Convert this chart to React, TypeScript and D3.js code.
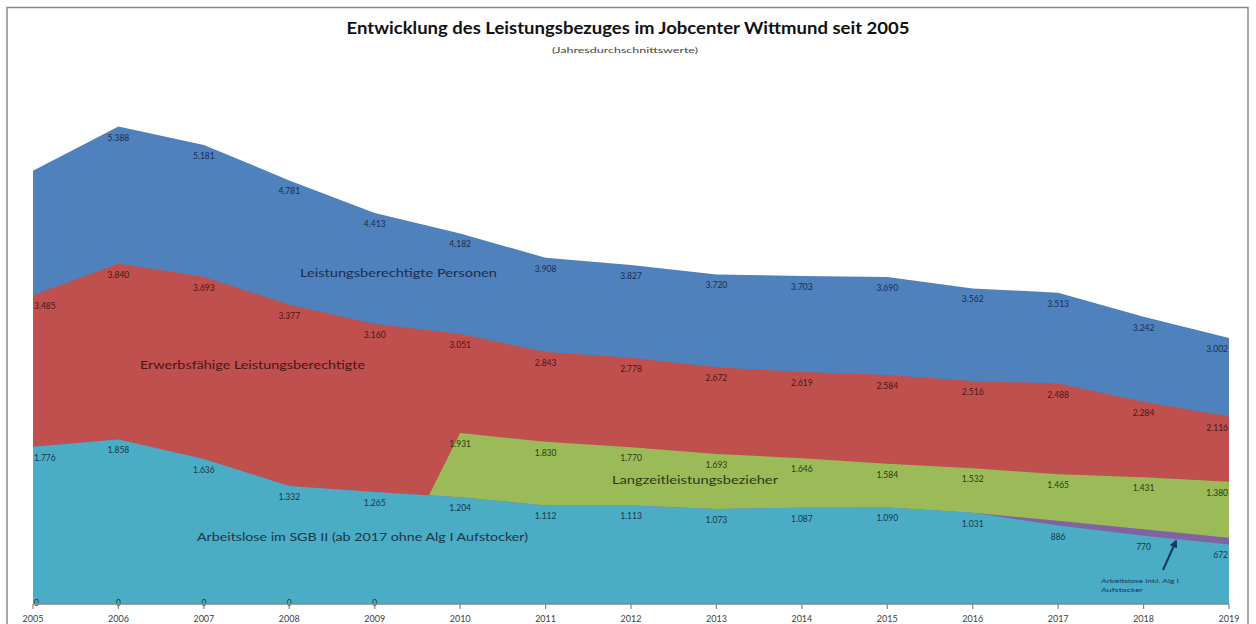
import React from "react";
import * as d3 from "d3";

const years = [2005, 2006, 2007, 2008, 2009, 2010, 2011, 2012, 2013, 2014, 2015, 2016, 2017, 2018, 2019];
const leistungsberechtigte = [4890, 5388, 5181, 4781, 4413, 4182, 3908, 3827, 3720, 3703, 3690, 3562, 3513, 3242, 3002];
const erwerbsfaehige = [3485, 3840, 3693, 3377, 3160, 3051, 2843, 2778, 2672, 2619, 2584, 2516, 2488, 2284, 2116];
const langzeit = [0, 0, 0, 0, 0, 1931, 1830, 1770, 1693, 1646, 1584, 1532, 1465, 1431, 1380];
const arbeitsloseInklAufstocker = [1776, 1858, 1636, 1332, 1265, 1204, 1112, 1113, 1073, 1087, 1090, 1031, 940, 843, 748];
const arbeitslose = [1776, 1858, 1636, 1332, 1265, 1204, 1112, 1113, 1073, 1087, 1090, 1031, 886, 770, 672];
const hiddenBlueLabelYears = [2005];

const W = 1256;
const H = 624;
const FONT = "Lato, 'Open Sans', 'DejaVu Sans', sans-serif";

const de = d3.formatLocale({ decimal: ",", thousands: ".", grouping: [3], currency: ["", " €"] });
const fmt = de.format(",d");

type Series = {
  name: string;
  values: number[];
  fill: string;
  labelColor: string;
  labels: boolean;
  hidden?: number[];
};

const series: Series[] = [
  { name: "Leistungsberechtigte Personen", values: leistungsberechtigte, fill: "#4F81BD", labelColor: "#1B2E4E", labels: true, hidden: hiddenBlueLabelYears },
  { name: "Erwerbsfähige Leistungsberechtigte", values: erwerbsfaehige, fill: "#C0504D", labelColor: "#4A1616", labels: true },
  { name: "Langzeitleistungsbezieher", values: langzeit, fill: "#9BBB59", labelColor: "#2C3A12", labels: true },
  { name: "Arbeitslose inkl. Alg I Aufstocker", values: arbeitsloseInklAufstocker, fill: "#8064A2", labelColor: "#2A1F3A", labels: false },
  { name: "Arbeitslose im SGB II (ab 2017 ohne Alg I Aufstocker)", values: arbeitslose, fill: "#4BACC6", labelColor: "#173846", labels: true },
];

export default function App() {
  const x = d3.scalePoint<number>().domain(years).range([33, 1229]);
  const y = d3.scaleLinear().domain([0, 6000]).range([604, 72.4]);

  const area = d3
    .area<number>()
    .x((_, i) => x(years[i]) as number)
    .y0(y(0))
    .y1((v) => y(v))
    .curve(d3.curveLinear);

  const labelOffset = 11;

  return (
    <svg width={W} height={H} style={{ position: "absolute", left: 0, top: 0, background: "#fff" }} fontFamily={FONT}>
      <rect x={0} y={0} width={W} height={H} fill="#fff" />
      {/* frame */}
      <rect x={7} y={7.5} width={1241} height={700} fill="none" stroke="#8a8a8a" strokeWidth={1.5} />

      {/* title */}
      <text x={628} y={34} textAnchor="middle" fontSize={17} fontWeight={700} fill="#111" textLength={563} lengthAdjust="spacingAndGlyphs">
        Entwicklung des Leistungsbezuges im Jobcenter Wittmund seit 2005
      </text>
      <text x={625} y={53} textAnchor="middle" fontSize={8} fill="#444" textLength={146} lengthAdjust="spacingAndGlyphs">
        (Jahresdurchschnittswerte)
      </text>

      {/* areas */}
      {series.map((s) => (
        <path key={s.name} d={area(s.values) || ""} fill={s.fill} />
      ))}

      {/* data labels */}
      {series.map((s) =>
        s.labels
          ? s.values.map((v, i) => {
              if (s.hidden && s.hidden.includes(years[i])) return null;
              const px = x(years[i]) as number;
              const last = i === years.length - 1;
              const first = i === 0;
              const ly = Math.min(y(v) + labelOffset, y(0) - 1);
              return (
                <text
                  key={s.name + i}
                  x={first ? px + 1 : last ? px - 1 : px}
                  y={ly}
                  textAnchor={first ? "start" : last ? "end" : "middle"}
                  dominantBaseline="central"
                  fontSize={8.5}
                  fill={s.labelColor}
                >
                  {fmt(v)}
                </text>
              );
            })
          : null
      )}

      {/* series name labels */}
      <text x={300} y={272} dominantBaseline="central" fontSize={12} fill="#1B2E4E" textLength={197} lengthAdjust="spacingAndGlyphs">
        {series[0].name}
      </text>
      <text x={140} y={364} dominantBaseline="central" fontSize={12} fill="#4A1616" textLength={225} lengthAdjust="spacingAndGlyphs">
        {series[1].name}
      </text>
      <text x={612} y={479} dominantBaseline="central" fontSize={12} fill="#2C3A12" textLength={166} lengthAdjust="spacingAndGlyphs">
        {series[2].name}
      </text>
      <text x={197} y={536} dominantBaseline="central" fontSize={12} fill="#173846" textLength={331} lengthAdjust="spacingAndGlyphs">
        {series[4].name}
      </text>

      {/* annotation arrow */}
      <defs>
        <marker id="arrowHead" viewBox="0 0 10 10" refX={8} refY={5} markerWidth={4} markerHeight={4} orient="auto">
          <path d="M0,0 L10,5 L0,10 z" fill="#17375E" />
        </marker>
      </defs>
      <line x1={1163} y1={570} x2={1176} y2={541} stroke="#17375E" strokeWidth={2} markerEnd="url(#arrowHead)" />
      <text x={1101} y={583} fontSize={5.5} fill="#17375E" textLength={78} lengthAdjust="spacingAndGlyphs">
        Arbeitslose inkl. Alg I
      </text>
      <text x={1101} y={592} fontSize={5.5} fill="#17375E" textLength={42} lengthAdjust="spacingAndGlyphs">
        Aufstocker
      </text>

      {/* x axis */}
      <line x1={33} x2={1229} y1={y(0)} y2={y(0)} stroke="#868686" strokeWidth={1.5} />
      {years.map((yr) => (
        <g key={yr}>
          <line x1={x(yr)} x2={x(yr)} y1={y(0)} y2={y(0) + 5} stroke="#868686" strokeWidth={1.2} />
          <text x={x(yr)} y={618} textAnchor="middle" dominantBaseline="central" fontSize={9} fill="#404040">
            {yr}
          </text>
        </g>
      ))}
    </svg>
  );
}
